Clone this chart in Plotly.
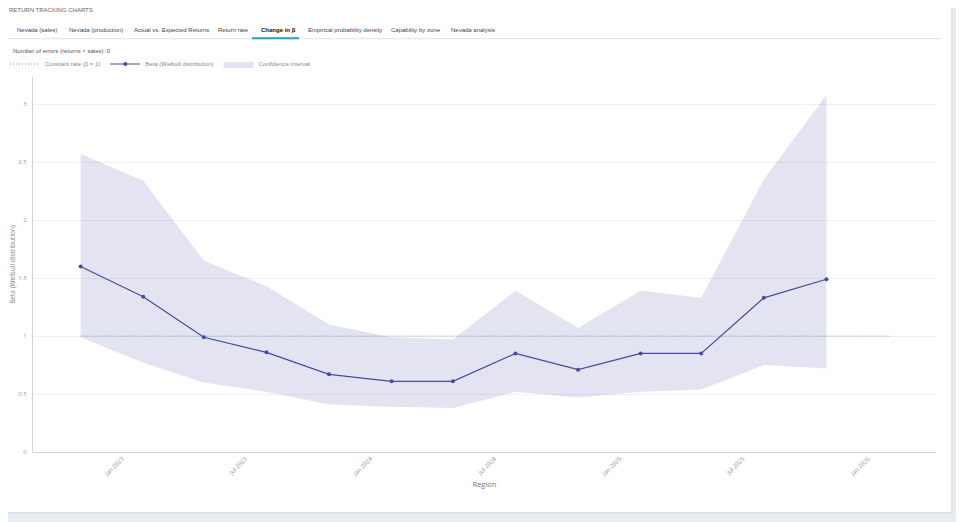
import plotly.graph_objects as go

# quarterly estimates of beta and its confidence band
dates = ["2022-11-01", "2023-02-01", "2023-05-01", "2023-08-01", "2023-11-01",
         "2024-02-01", "2024-05-01", "2024-08-01", "2024-11-01", "2025-02-01",
         "2025-05-01", "2025-08-01", "2025-11-01"]
beta = [1.60, 1.34, 0.99, 0.86, 0.67, 0.61, 0.61, 0.85, 0.71, 0.85, 0.85, 1.33, 1.49]
ci_upper = [2.57, 2.34, 1.65, 1.43, 1.10, 0.99, 0.97, 1.39, 1.07, 1.39, 1.33, 2.35, 3.08]
ci_lower = [0.99, 0.77, 0.60, 0.52, 0.41, 0.39, 0.38, 0.52, 0.47, 0.52, 0.54, 0.75, 0.72]

const_dates = ["2022-11-01", "2026-02-01"]
const_vals = [1, 1]

tabs = ["Nevada (sales)", "Nevada (production)", "Actual vs. Expected Returns", "Return rate",
        "Change in β", "Empirical probability density", "Capability by zone", "Nevada analysis"]
tab_x = [16, 68, 133, 216.5, 260, 306.5, 389.5, 449.5]
active_tab = "Change in β"

W, H = 964, 522
OFF = 8  # the page body adds 8px before the figure
# plot area in screen pixels
L, T, R, B = 33, 77, 936, 452


def px(x):
    return (x - L) / (R - L)


def py(y):
    return (B - y) / (B - T)


line_col = "#4a4a9e"
fill_col = "rgba(70,70,160,0.15)"
ui_font = "Liberation Sans"

fig = go.Figure()
fig.add_trace(go.Scatter(x=dates, y=ci_lower, mode="lines", line=dict(width=0),
                         showlegend=False, hoverinfo="skip"))
fig.add_trace(go.Scatter(x=dates, y=ci_upper, mode="lines", line=dict(width=0),
                         fill="tonexty", fillcolor=fill_col,
                         name="Confidence interval", legendrank=3))
fig.add_trace(go.Scatter(x=const_dates, y=const_vals, mode="lines",
                         line=dict(color="#52b888", width=1, dash="1px,2px"),
                         name="Constant rate (β = 1)", legendrank=1))
fig.add_trace(go.Scatter(x=dates, y=beta, mode="lines+markers",
                         line=dict(color=line_col, width=1.2),
                         marker=dict(size=4, color=line_col),
                         name="Beta (Weibull distribution)", legendrank=2))

shapes = [
    dict(type="rect", xref="paper", yref="paper", x0=px(-10), x1=px(953), y0=py(-10), y1=py(514),
         fillcolor="#dfe4ea", line=dict(width=0), layer="below"),
    dict(type="rect", xref="paper", yref="paper", x0=px(-10), x1=px(951), y0=py(-10), y1=py(512),
         fillcolor="white", line=dict(width=0), layer="below"),
    dict(type="line", xref="paper", yref="paper", x0=px(8), x1=px(941), y0=py(38.7), y1=py(38.7),
         line=dict(color="#dce3ec", width=1)),
    dict(type="line", xref="paper", yref="paper", x0=px(252), x1=px(299), y0=py(38.3), y1=py(38.3),
         line=dict(color="#19a3c6", width=2)),
]

annotations = [
    dict(text="RETURN TRACKING CHARTS", x=px(7), y=py(10), xref="paper", yref="paper",
         xanchor="left", yanchor="middle", showarrow=False,
         font=dict(family=ui_font, size=6, color="#666")),
    dict(text="Number of errors (returns < sales): 0", x=px(11), y=py(50.5), xref="paper", yref="paper",
         xanchor="left", yanchor="middle", showarrow=False,
         font=dict(family=ui_font, size=6, color="#555")),
]
for name, tx in zip(tabs, tab_x):
    bold = name == active_tab
    annotations.append(dict(text="<b>" + name + "</b>" if bold else name,
                            x=px(tx - 1), y=py(30), xref="paper", yref="paper",
                            xanchor="left", yanchor="middle", showarrow=False,
                            font=dict(family=ui_font, size=6, color="#111" if bold else "#444")))

fig.update_layout(
    width=W, height=H,
    margin=dict(l=L - OFF, r=W - R + OFF, t=T - OFF, b=H - B + OFF, pad=0, autoexpand=False),
    paper_bgcolor="#e9edf2",
    plot_bgcolor="rgba(0,0,0,0)",
    font=dict(family="Open Sans", size=6, color="#999"),
    shapes=shapes,
    annotations=annotations,
    showlegend=True,
    legend=dict(orientation="h", x=px(5), y=py(64), xanchor="left", yanchor="middle",
                traceorder="normal",
                font=dict(family=ui_font, size=6, color="#888"),
                itemwidth=30, bgcolor="rgba(0,0,0,0)", tracegroupgap=0),
    xaxis=dict(
        type="date", range=["2022-08-23", "2026-04-11"], automargin=False,
        tickformat="%b %Y", dtick="M6", tick0="2023-01-01",
        tickangle=-45, showgrid=False, zeroline=False,
        showline=True, linecolor="#d6d6d6", linewidth=1,
        tickfont=dict(size=6, color="#8a8fa8"),
        title=dict(text="Region", font=dict(size=7.5, color="#777"), standoff=4),
    ),
    yaxis=dict(
        range=[0, 3.235], dtick=0.5, automargin=False,
        showgrid=True, gridcolor="#eef0f6",
        zeroline=False, showline=True, linecolor="#d6d6d6", linewidth=1,
        ticks="", ticklabelstandoff=4,
        tickfont=dict(size=6, color="#999"),
        title=dict(text="Beta (Weibull distribution)", font=dict(size=6.5, color="#888"), standoff=3),
    ),
)

fig.write_html("out.html")
